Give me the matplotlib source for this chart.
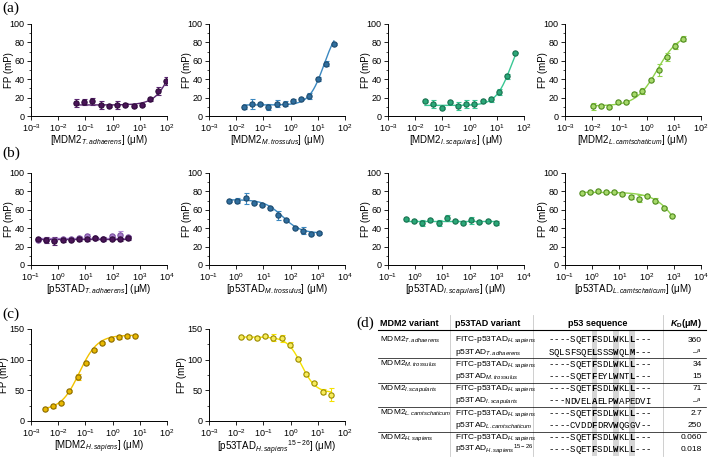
import numpy as np
import matplotlib.pyplot as plt
from matplotlib.ticker import LogLocator, NullLocator, MultipleLocator
from matplotlib.patches import Rectangle

plt.rcParams['font.family'] = ['Liberation Sans', 'DejaVu Sans']
plt.rcParams['mathtext.fontset'] = 'custom'
plt.rcParams['mathtext.rm'] = 'Liberation Sans'
plt.rcParams['mathtext.it'] = 'Liberation Sans:italic'
plt.rcParams['mathtext.bf'] = 'Liberation Sans:bold'
plt.rcParams['mathtext.bfit'] = 'Liberation Sans:italic:bold'

# (a) MDM2 variants titrated into FITC-p53TAD
conc_a1 = [0.046, 0.092, 0.18, 0.37, 0.73, 1.47, 2.94, 5.9, 11.8, 23.5, 47, 94]
fp_a1 = [14, 15, 16, 12, 11, 12, 12.5, 10.5, 12, 18, 27, 38]
err_a1 = [4, 3, 4, 4, 1, 4, 2, 1, 1, 2, 4, 4]
conc_a2 = [0.019, 0.038, 0.077, 0.15, 0.31, 0.62, 1.23, 2.5, 4.9, 9.8, 19.7, 39]
fp_a2 = [10, 13, 13, 10, 13.5, 13.5, 16, 19, 22, 40.5, 57, 78]
err_a2 = [2, 5, 1, 3, 4, 3, 2, 1, 3, 2, 3, 1]
conc_a3 = [0.023, 0.047, 0.094, 0.19, 0.375, 0.75, 1.5, 3, 6, 12, 24, 48]
fp_a3 = [16, 13, 9, 15, 11, 13, 13, 16, 18, 26, 43, 69]
err_a3 = [1, 4, 1, 1, 4, 4, 4, 1, 3, 3, 3, 1]
conc_a4 = [0.0107, 0.021, 0.043, 0.086, 0.17, 0.34, 0.69, 1.4, 2.75, 5.5, 11, 22]
fp_a4 = [10.5, 11, 10, 15, 15.3, 24, 27, 39, 50, 64, 76, 84]
err_a4 = [4, 1, 1, 1, 1, 2, 3, 1, 6, 4, 3, 3]

# (b) p53TAD variants competing
conc_b1 = [0.18, 0.36, 0.72, 1.44, 2.9, 5.8, 11.5, 23, 46, 92, 184, 369]
fp_b1 = [28, 27, 26, 27, 27.5, 28, 28.5, 29, 28, 28.5, 28, 29]
err_b1 = [1, 3, 4, 1.5, 1, 2, 2.5, 1.5, 2, 1.5, 1.5, 2]
fp_b1_rep = [27, 27.5, 27, 28, 28, 29.5, 31, 29, 28.5, 31, 33, 30]
err_b1_rep = [1, 1, 1, 1, 1, 2, 3, 1, 1, 2, 4, 2]
conc_b2 = [0.55, 1.1, 2.2, 4.4, 8.8, 17.6, 35, 70, 141, 282, 563, 1126]
fp_b2 = [70, 70, 72.5, 67, 65.5, 61.5, 54, 48.5, 40, 37.5, 34, 35]
err_b2 = [1, 3, 6, 1, 1, 2, 5, 1, 1, 4, 1, 1]
conc_b3 = [0.45, 0.9, 1.8, 3.6, 7.2, 14.4, 28.8, 57.6, 115, 230, 460, 921]
fp_b3 = [49.6, 47.8, 45.6, 48.5, 45.6, 51, 47.8, 46, 48.5, 46.7, 47.8, 46]
err_b3 = [1, 1, 3, 1, 3, 3, 1, 1, 4, 1, 1, 2]
conc_b4 = [0.41, 0.82, 1.64, 3.3, 6.6, 13, 26, 52, 105, 210, 420, 840]
fp_b4 = [78.5, 79, 80.7, 79.6, 79, 76.7, 73.8, 72, 74.5, 70, 62.5, 53.8]
err_b4 = [1, 1, 1, 1, 1, 1, 2, 4, 1, 3, 1, 1]

# (c) human controls
conc_c1 = [0.0033, 0.0066, 0.013, 0.026, 0.053, 0.105, 0.21, 0.42, 0.84, 1.7, 3.4, 6.8]
fp_c1 = [20, 24, 29, 49, 72, 95, 116, 127, 134, 136.5, 138, 139]
err_c1 = [2, 2, 2, 2, 5, 2, 2, 2, 2, 2, 2, 1]
conc_c2 = [0.0147, 0.029, 0.059, 0.118, 0.235, 0.47, 0.94, 1.88, 3.76, 7.5, 15, 30]
fp_c2 = [136.5, 136.5, 135, 139, 136, 135, 124, 101.5, 76, 62, 48, 43]
err_c2 = [1, 1, 1, 1, 6, 6, 4, 2, 3, 1, 4, 10]

# fitted curves: (value at low conc, value at high conc, midpoint, slope)
fit_a1 = (12, 120, 230, 1.3)
fit_a2 = (12, 100, 17, 1.6)
fit_a3 = (11.5, 100, 35, 1.5)
fit_a4 = (11, 90, 2.5, 1.1)
fit_b1 = (28, 28, 1, 1)
fit_b1_rep = (29, 29, 1, 1)
fit_b2 = (71, 34.5, 50, 1.3)
fit_b3 = (47.5, 47.5, 1, 1)
fit_b4 = (79, 0, 1800, 1)
fit_c1 = (18, 140, 0.06, 1.3)
fit_c2 = (137, 46, 2.5, 1.65)

# (d) table
mdm2_variants = ['T.adhaerens', 'M.trossulus', 'I.scapularis', 'L.camtschaticum', 'H.sapiens']
p53_variants = ['T.adhaerens', 'M.trossulus', 'I.scapularis', 'L.camtschaticum', 'H.sapiens']
sequences = ['----SQETFSDLWKLL---', 'SQLSFSQELSSSWQLM---',
             '----SQETFSDLWKLL---', '----SQETFEYLWNTL---',
             '----SQETFSDLWKLL---', '---NDVELAELPWAPEDVI',
             '----SQETFSDLWKLL---', '----CVDDFDRVWQGGV--',
             '----SQETFSDLWKLL---', '----SQETFSDLWKLL---']
bold_pos = [[8, 12, 15], [8, 12, 15], [8, 12, 15], [8, 12, 15], [8, 12, 15],
            [8, 12], [8, 12, 15], [8, 12], [8, 12, 15], [8, 12, 15]]
kd_values = ['360', '–$^{\\mathit{a}}$', '34', '15', '71', '–$^{\\mathit{a}}$',
             '2.7', '250', '0.060', '0.018']
hot_cols = [8, 12, 15]


def hill(x, y0, y1, k, h):
    return y0 + (y1 - y0) / (1 + (k / x) ** h)


def style(ax, xlim, ylim, ystep, xlabel, ylab_x=-0.125):
    ax.set_xscale('log')
    ax.set_xlim(*xlim)
    ax.set_ylim(*ylim)
    ax.xaxis.set_major_locator(LogLocator(base=10, subs=(1.0,), numticks=20))
    ax.xaxis.set_minor_locator(NullLocator())
    ax.yaxis.set_major_locator(MultipleLocator(ystep))
    ax.yaxis.set_minor_locator(MultipleLocator(ystep / 2))
    for s in ['top', 'right']:
        ax.spines[s].set_visible(False)
    for s in ['left', 'bottom']:
        ax.spines[s].set_linewidth(0.7)
    ax.tick_params(labelsize=6.5, length=3, width=0.6, pad=1.5)
    ax.tick_params(which='minor', length=1.8, width=0.5)
    ax.set_ylabel('FP (mP)', fontsize=7)
    ax.yaxis.set_label_coords(ylab_x, 0.5)
    ax.set_xlabel(xlabel, fontsize=7)
    ax.xaxis.set_label_coords(0.5, -0.19)


def series(ax, x, y, err, fit, line_c, face_c, edge_c):
    xs = np.logspace(np.log10(min(x)), np.log10(max(x)), 200)
    ax.plot(xs, hill(xs, *fit), color=line_c, lw=1.0, zorder=2)
    ax.errorbar(x, y, yerr=err, fmt='o', ms=3.8, mfc=face_c, mec=edge_c, mew=0.8,
                ecolor=line_c, elinewidth=0.8, capsize=1.8, capthick=0.8, zorder=3)


def sub(name, base):
    return base + '$_{\\mathit{' + name + '}}$'


W, H = 709, 457
fig = plt.figure(figsize=(W / 100, H / 100), dpi=100)

lefts = [31, 209, 388, 565]
bottoms = [116, 265, 421]
aw, ah = 136, 92


def make_ax(col, row):
    return fig.add_axes([lefts[col] / W, 1 - bottoms[row] / H, aw / W, ah / H])


purple = ('#5a2670', '#4a1458', '#2e0b3a')
blue = ('#3b88c0', '#2f6e9e', '#1d4a6e')
teal = ('#39c794', '#2aa878', '#17704e')
lime = ('#8fd24c', '#a6d96a', '#4f8a1e')
gold = ('#f2c200', '#e8b800', '#8a6a00')
yellow = ('#f5e100', '#f8ec5a', '#9a8a00')

rows_a = [(conc_a1, fp_a1, err_a1, fit_a1, purple, 'T.adhaerens'),
          (conc_a2, fp_a2, err_a2, fit_a2, blue, 'M.trossulus'),
          (conc_a3, fp_a3, err_a3, fit_a3, teal, 'I.scapularis'),
          (conc_a4, fp_a4, err_a4, fit_a4, lime, 'L.camtschaticum')]
for i, (x, y, e, f, c, name) in enumerate(rows_a):
    ax = make_ax(i, 0)
    series(ax, x, y, e, f, *c)
    style(ax, (1e-3, 1e2), (0, 100), 20, '[' + sub(name, 'MDM2') + '] (μM)')

rows_b = [(conc_b1, fp_b1, err_b1, fit_b1, purple, 'T.adhaerens'),
          (conc_b2, fp_b2, err_b2, fit_b2, blue, 'M.trossulus'),
          (conc_b3, fp_b3, err_b3, fit_b3, teal, 'I.scapularis'),
          (conc_b4, fp_b4, err_b4, fit_b4, lime, 'L.camtschaticum')]
for i, (x, y, e, f, c, name) in enumerate(rows_b):
    ax = make_ax(i, 1)
    if i == 0:
        series(ax, x, fp_b1_rep, err_b1_rep, fit_b1_rep, '#b48ad8', '#a77bca', '#7a4f9e')
    series(ax, x, y, e, f, *c)
    style(ax, (1e-1, 1e4), (0, 100), 20, '[' + sub(name, 'p53TAD') + '] (μM)')

ax = make_ax(0, 2)
series(ax, conc_c1, fp_c1, err_c1, fit_c1, *gold)
style(ax, (1e-3, 1e2), (0, 150), 50, '[' + sub('H.sapiens', 'MDM2') + '] (μM)', -0.16)
ax = make_ax(1, 2)
series(ax, conc_c2, fp_c2, err_c2, fit_c2, *yellow)
style(ax, (1e-3, 1e2), (0, 150), 50,
      '[p53TAD$_{\\mathit{H.sapiens}}{}^{15-26}$] (μM)', -0.16)

for lab, xp, yp in [('(a)', 2, 8), ('(b)', 2, 153), ('(c)', 2, 314), ('(d)', 356, 323)]:
    fig.text(xp / W, 1 - yp / H, lab, family=['Liberation Serif', 'DejaVu Serif'],
             fontsize=11, va='center', ha='left')

# table (d), drawn in pixel coordinates
tab = fig.add_axes([0, 0, 1, 1], zorder=-1)
tab.set_xlim(0, W)
tab.set_ylim(H, 0)
tab.axis('off')

x_mdm2, x_p53, x_seq0, cw, x_kd = 380, 455, 551, 5.4, 702
y_head, y_row0, dy = 323, 340, 12.2
x_lines = [450, 533, 663]

for c in hot_cols:
    tab.add_patch(Rectangle((x_seq0 + (c - 0.5) * cw, y_head + 7), cw, H - y_head - 8,
                            color='#d6d6d6', lw=0))
for xl in x_lines:
    tab.plot([xl, xl], [y_head - 8, H - 1], color='#c8c8c8', lw=0.6)
tab.plot([378, 706], [y_head + 7, y_head + 7], color='black', lw=0.8)
for g in range(4):
    yl = y_row0 + (2 * g + 1.5) * dy
    tab.plot([378, 706], [yl, yl], color='black', lw=0.5)

hkw = dict(fontsize=6.5, weight='bold', va='center')
tab.text(x_mdm2, y_head, 'MDM2 variant', ha='left', **hkw)
tab.text(x_p53, y_head, 'p53TAD variant', ha='left', **hkw)
tab.text((x_lines[1] + x_lines[2]) / 2, y_head, 'p53 sequence', ha='center', **hkw)
tab.text(x_kd, y_head, '$\\mathbfit{K}_{\\mathbf{D}}$(μM)', ha='right', **hkw)

for r in range(10):
    y = y_row0 + r * dy
    g = r // 2
    if r % 2 == 0:
        tab.text(x_mdm2, y, sub(mdm2_variants[g], 'MDM2'), fontsize=6, va='center')
        tab.text(x_p53, y, sub('H.sapiens', 'FITC-p53TAD'), fontsize=6, va='center')
    else:
        lbl = sub(p53_variants[g], 'p53TAD')
        if g == 4:
            lbl = 'p53TAD$_{\\mathit{H.sapiens}}{}^{15-26}$'
        tab.text(x_p53, y, lbl, fontsize=6, va='center')
    for i, ch in enumerate(sequences[r]):
        tab.text(x_seq0 + i * cw, y, ch, family=['Liberation Mono', 'DejaVu Sans Mono'],
                 fontsize=6.5, weight='bold' if i in bold_pos[r] else 'normal',
                 ha='center', va='center')
    tab.text(x_kd, y, kd_values[r], fontsize=6, ha='right', va='center')

fig.savefig('out.png', dpi=100)
